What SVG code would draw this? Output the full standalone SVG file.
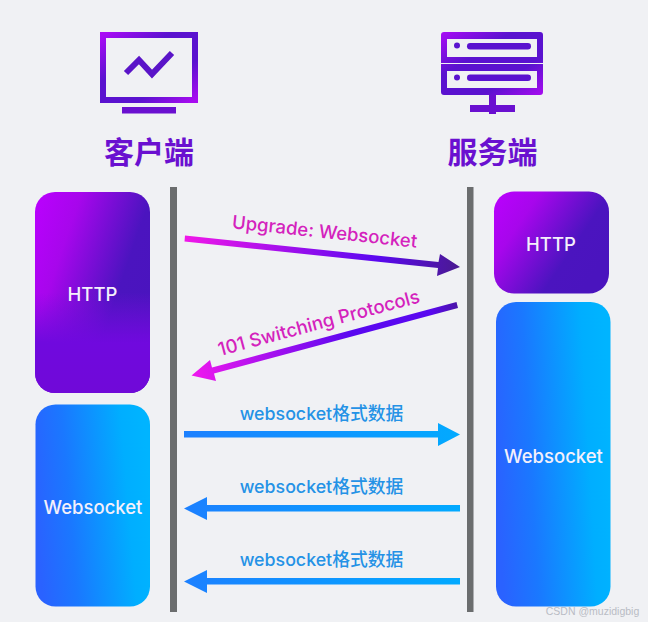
<svg xmlns="http://www.w3.org/2000/svg" width="648" height="622" viewBox="0 0 648 622">
<style>
.t{font-family:"Inter","Noto Sans CJK SC",sans-serif}
.w{fill:#f4f0fb;font-size:18.500px;text-anchor:middle;font-weight:500}
.h{font-family:"Noto Sans CJK SC",sans-serif;font-size:30px;font-weight:700;text-anchor:middle;fill:#6a10d0}
.m{fill:#d422bd;font-size:18.500px;text-anchor:middle;font-weight:500}
.b{fill:#2492e6;font-size:17.800px;text-anchor:middle;font-weight:500}
.bar{fill:#6b6d6e}
</style>
<defs>
<linearGradient id="ic" x1="0" y1="0" x2="1" y2="1"><stop offset="0" stop-color="#a90cf5"/><stop offset=".35" stop-color="#5a12cf"/><stop offset=".7" stop-color="#5a12cf"/><stop offset="1" stop-color="#a80cf0"/></linearGradient>
<linearGradient id="hp" x1="0" y1="0" x2="1" y2=".6"><stop offset="0" stop-color="#bb00ff"/><stop offset=".3" stop-color="#a706ec"/><stop offset=".75" stop-color="#4b14bf"/><stop offset="1" stop-color="#4a14be"/></linearGradient>
<linearGradient id="hp2" x1="0" y1="0" x2="0" y2="1"><stop offset=".5" stop-color="#7a0be0" stop-opacity="0"/><stop offset=".75" stop-color="#7009de"/><stop offset="1" stop-color="#7009d8"/></linearGradient>
<linearGradient id="ws" x1="0" y1=".55" x2="1" y2=".4"><stop offset="0" stop-color="#2a62ff"/><stop offset=".3" stop-color="#1a78ff"/><stop offset=".8" stop-color="#00aeff"/><stop offset="1" stop-color="#00b4ff"/></linearGradient>
<linearGradient id="a1" gradientUnits="userSpaceOnUse" x1="185" y1="238" x2="460" y2="267"><stop offset="0" stop-color="#f018e8"/><stop offset=".7" stop-color="#5a08f0"/><stop offset="1" stop-color="#4a1a90"/></linearGradient>
<linearGradient id="a2" gradientUnits="userSpaceOnUse" x1="192" y1="376" x2="457" y2="305"><stop offset="0" stop-color="#f018ee"/><stop offset=".6" stop-color="#5a08f0"/><stop offset=".9" stop-color="#5a08f0"/><stop offset="1" stop-color="#4a14a8"/></linearGradient>
<linearGradient id="a3" gradientUnits="userSpaceOnUse" x1="184" y1="0" x2="460" y2="0"><stop offset="0" stop-color="#1c80ff"/><stop offset="1" stop-color="#02aaff"/></linearGradient>
</defs>
<rect width="648" height="622" fill="#f0f1f4"/>
<g id="client-icon">
<rect x="103" y="35" width="92" height="65" fill="none" stroke="url(#ic)" stroke-width="6"/>
<rect x="122" y="107" width="54" height="6.500" fill="#6a10d0"/>
<polyline points="126,73 139,60 152,74 172,53" fill="none" stroke="#5a14c8" stroke-width="6"/>
<text class="h" x="149" y="163">客户端</text>
</g>
<g id="server-icon">
<path fill="url(#ic)" fill-rule="evenodd" d="M444 32H540a3 3 0 0 1 3 3V63H441V35a3 3 0 0 1 3-3ZM447 39V57H537V39ZM441 64H543V92a3 3 0 0 1-3 3H444a3 3 0 0 1-3-3ZM447 71V88H537V71Z"/>
<circle cx="457" cy="45.500" r="3" fill="#5a12cf"/><rect x="467" y="43" width="64" height="6.500" rx="3.200" fill="#5a12cf"/>
<circle cx="457" cy="77.500" r="3" fill="#5a12cf"/><rect x="467" y="74.500" width="64" height="6.500" rx="3.200" fill="#5a12cf"/>
<path fill="#6a10d0" d="M489 95h7v10h19v7h-19v2h-7v-2h-19v-7h19Z"/>
<text class="h" x="492.500" y="163">服务端</text>
</g>
<g id="lifelines">
<rect class="bar" x="170" y="187" width="7" height="425"/>
<rect class="bar" x="467" y="187" width="6.500" height="425"/>
</g>
<g id="client-http">
<rect x="35" y="192" width="115" height="201" rx="20" fill="url(#hp)"/>
<rect x="35" y="192" width="115" height="201" rx="20" fill="url(#hp2)"/>
<text class="t w" x="92.500" y="300.500">HTTP</text>
</g>
<g id="client-websocket">
<rect x="35.500" y="404.500" width="114.500" height="202" rx="20" fill="url(#ws)"/>
<text class="t w" x="93" y="513.500">Websocket</text>
</g>
<g id="server-http">
<rect x="494" y="191.500" width="115" height="102" rx="20" fill="url(#hp)"/>
<text class="t w" x="551" y="250.500">HTTP</text>
</g>
<g id="server-websocket">
<rect x="496" y="302" width="114.500" height="304.500" rx="20" fill="url(#ws)"/>
<text class="t w" x="553.500" y="462.500">Websocket</text>
</g>
<g id="connectors">
<polygon fill="url(#a1)" points="185,235.500 438.500,262 440,254 460,267 437,276 438,268 184.500,241.500"/>
<polygon fill="url(#a2)" points="456.500,302 212,367.500 210,360 191.500,375.500 216,381 214,373.500 458,308"/>
<polygon fill="url(#a3)" points="184,431 438,431 438,423 460,434.500 438,446 438,437.500 184,437.500"/>
<polygon fill="url(#a3)" points="460,505 207,505 207,497 184,508.500 207,520 207,511.500 460,511.500"/>
<polygon fill="url(#a3)" points="460,578 207,578 207,570 184,581.500 207,593 207,584.500 460,584.500"/>
</g>
<g id="labels">
<text class="t m" transform="translate(324,238) rotate(6)">Upgrade: Websocket</text>
<text class="t m" transform="translate(320.500,329) rotate(-15)">101 Switching Protocols</text>
<text class="t b" x="321.500" y="419.500">websocket格式数据</text>
<text class="t b" x="321.500" y="493">websocket格式数据</text>
<text class="t b" x="321.500" y="566">websocket格式数据</text>
</g>
<text x="592.500" y="615" font-family="Liberation Sans,sans-serif" font-size="10.500" fill="#b9bcc4" text-anchor="middle">CSDN @muzidigbig</text>
</svg>
